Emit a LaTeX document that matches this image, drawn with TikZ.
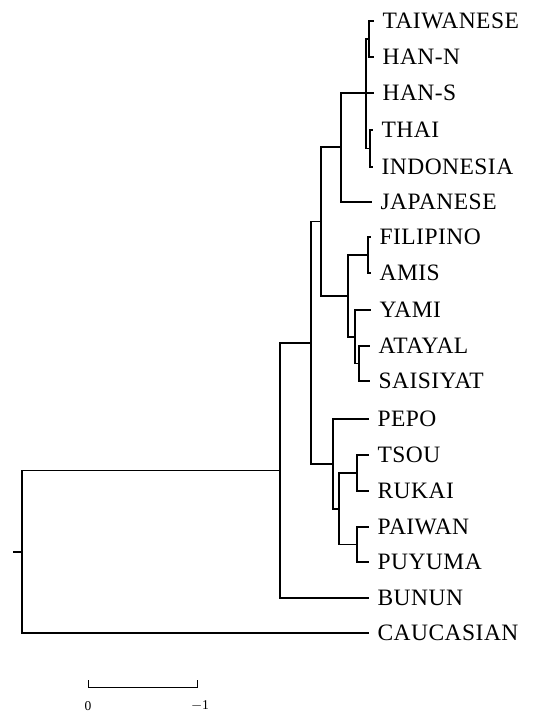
\documentclass[tikz,border=0pt]{standalone}
\usepackage{fontspec}
\setmainfont{Liberation Serif}
\newfontfamily\taxonfont[LetterSpace=2]{Liberation Serif}
\begin{document}
\begin{tikzpicture}[x=1pt,y=-1pt,line width=1.2pt,
  taxon/.style={anchor=west,inner sep=0pt,text height=15.5pt,text depth=0pt,
    font=\taxonfont\fontsize{23.5}{27}\selectfont},
  branch/.style={line cap=rect,line join=miter},
  scalelabel/.style={inner sep=0pt,font=\fontsize{13.5}{16}\selectfont}]
\useasboundingbox (0,0) rectangle (544,717);

% taxa (label start x, leaf y)
\node[taxon] (tw)     at (382,21)  {TAIWANESE};
\node[taxon] (hann)   at (382,57)  {HAN-N};
\node[taxon] (hans)   at (382,93)  {HAN-S};
\node[taxon] (thai)   at (381,130) {THAI};
\node[taxon] (indo)   at (381,167) {INDONESIA};
\node[taxon] (jap)    at (380,202) {JAPANESE};
\node[taxon] (fil)    at (379,237) {FILIPINO};
\node[taxon] (amis)   at (379,273) {AMIS};
\node[taxon] (yami)   at (379,310) {YAMI};
\node[taxon] (ata)    at (378,346) {ATAYAL};
\node[taxon] (sai)    at (378,381) {SAISIYAT};
\node[taxon] (pepo)   at (377,419) {PEPO};
\node[taxon] (tsou)   at (377,455) {TSOU};
\node[taxon] (rukai)  at (377,491) {RUKAI};
\node[taxon] (paiwan) at (377,527) {PAIWAN};
\node[taxon] (puyuma) at (377,562) {PUYUMA};
\node[taxon] (bunun)  at (377,598) {BUNUN};
\node[taxon] (cauc)   at (377,633) {CAUCASIAN};

% internal nodes of the tree
\coordinate (nTH)   at (369,39);
\coordinate (nTI)   at (370,148.5);
\coordinate (nHAN)  at (366,93);
\coordinate (nE)    at (341,147);
\coordinate (nFA)   at (368,255);
\coordinate (nAS)   at (359,363.5);
\coordinate (nY)    at (355,337);
\coordinate (nG)    at (348,296);
\coordinate (nF)    at (321,221.5);
\coordinate (nTR)   at (357,473);
\coordinate (nPP)   at (357,544.5);
\coordinate (nL)    at (339,509);
\coordinate (nK)    at (333,464);
\coordinate (nJ)    at (311,343);
\coordinate (nR1)   at (280,470.5);
\coordinate (root)  at (22,552);
\coordinate (stub)  at (14,552);

\begin{scope}[branch]
  \draw (nTH) |- ([xshift=-9pt]tw.west);
  \draw (nTH) |- ([xshift=-9pt]hann.west);
  \draw (nTI) |- ([xshift=-9pt]thai.west);
  \draw (nTI) |- ([xshift=-9pt]indo.west);
  \draw (nHAN) |- (nTH);
  \draw (nHAN) -- ([xshift=-9pt]hans.west);
  \draw (nHAN) |- (nTI);
  \draw (nE) |- (nHAN);
  \draw (nE) |- ([xshift=-9pt]jap.west);
  \draw (nFA) |- ([xshift=-9pt]fil.west);
  \draw (nFA) |- ([xshift=-9pt]amis.west);
  \draw (nAS) |- ([xshift=-9pt]ata.west);
  \draw (nAS) |- ([xshift=-9pt]sai.west);
  \draw (nY) |- ([xshift=-9pt]yami.west);
  \draw (nY) |- (nAS);
  \draw (nG) |- (nFA);
  \draw (nG) |- (nY);
  \draw (nF) |- (nE);
  \draw (nF) |- (nG);
  \draw (nTR) |- ([xshift=-9pt]tsou.west);
  \draw (nTR) |- ([xshift=-9pt]rukai.west);
  \draw (nPP) |- ([xshift=-9pt]paiwan.west);
  \draw (nPP) |- ([xshift=-9pt]puyuma.west);
  \draw (nL) |- (nTR);
  \draw (nL) |- (nPP);
  \draw (nK) |- ([xshift=-9pt]pepo.west);
  \draw (nK) |- (nL);
  \draw (nJ) |- (nF);
  \draw (nJ) |- (nK);
  \draw (nR1) |- (nJ);
  \draw (nR1) |- ([xshift=-9pt]bunun.west);
  \draw (root) |- (nR1);
  \draw (root) |- ([xshift=-9pt]cauc.west);
  \draw (stub) -- (root);
\end{scope}

% scale bar
\coordinate (s0) at (88,687);
\coordinate (s1) at (197,687);
\draw[line width=1pt] ([yshift=7pt]s0) -- (s0) -- (s1) -- ([yshift=7pt]s1);
\node[scalelabel] (zero) at (88,706) {0};
\node[scalelabel] (minusone) at (200,706) {$-$1};
\end{tikzpicture}
\end{document}
